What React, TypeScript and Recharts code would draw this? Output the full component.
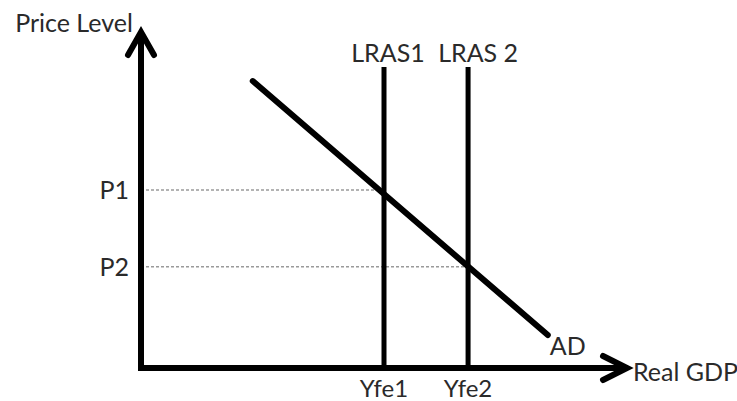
import { LineChart, Line, XAxis, YAxis, ReferenceLine, Label } from "recharts"

// axis frame (price level up, real GDP right) in model units 0..100
const axisFrame = [
  { gdp: 0, price: 100 },
  { gdp: 0, price: 0 },
  { gdp: 100, price: 0 },
]
const adCurve = [
  { gdp: 23, price: 85.4 },
  { gdp: 83.7, price: 9.8 },
]
const lrasGdp = [50, 67.3]
const lrasNames = ["LRAS1", "LRAS 2"]
const lrasTop = 89.6
const gdpTicks = [50, 67.3]
const gdpTickNames = ["Yfe1", "Yfe2"]
const priceTicks = [53, 30.1]
const priceTickNames = ["P1", "P2"]

const ink = "#000"
const textColor = "#2a2a2a"
const font = "Lato"

function ArrowDot(props: any) {
  const { cx, cy, index } = props
  if (index === 0) {
    return (
      <path
        key="up"
        d={`M${cx - 13},${cy + 23} L${cx},${cy} L${cx + 13},${cy + 23}`}
        stroke={ink}
        strokeWidth={6}
        fill="none"
        strokeLinecap="round"
      />
    )
  }
  if (index === 2) {
    return (
      <path
        key="right"
        d={`M${cx - 24},${cy - 12} L${cx},${cy} L${cx - 24},${cy + 12}`}
        stroke={ink}
        strokeWidth={6}
        fill="none"
        strokeLinecap="round"
      />
    )
  }
  return <g key={"d" + index} />
}

function AdLabel(props: any) {
  const { x, y, index } = props
  if (index !== 1) return null
  return (
    <text x={x + 2} y={y + 20} fill={textColor} fontSize={25} fontFamily={font}>
      AD
    </text>
  )
}

export default function App() {
  return (
    <div style={{ position: "absolute", left: 0, top: 0, background: "#fff" }}>
      <LineChart
        width={737}
        height={401}
        margin={{ top: 32, right: 110, bottom: 3, left: 81 }}
        style={{ fontFamily: font }}
      >
        <XAxis
          type="number"
          dataKey="gdp"
          domain={[0, 100]}
          ticks={gdpTicks}
          tickFormatter={(v: number) => gdpTickNames[gdpTicks.indexOf(v)]}
          axisLine={false}
          tickLine={false}
          tickSize={0}
          tickMargin={12}
          height={30}
          tick={{ fill: textColor, fontSize: 24 }}
        >
          <Label value="Real GDP" position="right" offset={6} dy={-11} fill={textColor} fontSize={25} />
        </XAxis>
        <YAxis
          type="number"
          dataKey="price"
          domain={[0, 100]}
          ticks={priceTicks}
          tickFormatter={(v: number) => priceTickNames[priceTicks.indexOf(v)]}
          axisLine={false}
          tickLine={false}
          tickSize={0}
          tickMargin={12}
          width={60}
          tick={{ fill: textColor, fontSize: 25 }}
        >
          <Label value="Price Level" position="top" offset={0} dx={-37} fill={textColor} fontSize={25} />
        </YAxis>

        {priceTicks.map((p, i) => (
          <ReferenceLine
            key={"p" + i}
            segment={[
              { x: 0, y: p },
              { x: lrasGdp[i], y: p },
            ]}
            stroke="#9a9a9a"
            strokeWidth={1.5}
            strokeDasharray="3 2"
          />
        ))}

        {lrasGdp.map((g, i) => (
          <ReferenceLine
            key={"l" + i}
            segment={[
              { x: g, y: 0 },
              { x: g, y: lrasTop },
            ]}
            stroke={ink}
            strokeWidth={5}
          >
            <Label
              value={lrasNames[i]}
              position="top"
              offset={5}
              dx={i === 1 ? 10 : 4}
              fill={textColor}
              fontSize={25}
            />
          </ReferenceLine>
        ))}

        <Line
          data={adCurve}
          dataKey="price"
          type="linear"
          stroke={ink}
          strokeWidth={6}
          strokeLinecap="round"
          dot={false}
          activeDot={false}
          label={AdLabel}
          isAnimationActive={false}
        />
        <Line
          data={axisFrame}
          dataKey="price"
          type="linear"
          stroke={ink}
          strokeWidth={6}
          dot={ArrowDot}
          activeDot={false}
          isAnimationActive={false}
        />
      </LineChart>
    </div>
  )
}
